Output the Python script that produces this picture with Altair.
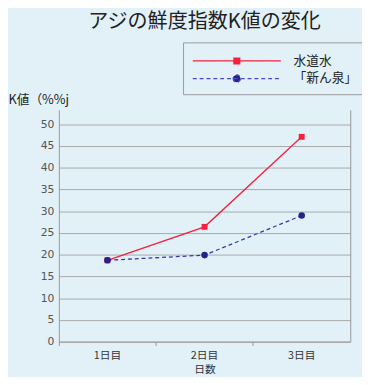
import altair as alt
import pandas as pd

days = ["1日目", "2日目", "3日目"]
series_names = ["水道水", "「新ん泉」"]
tap_water = [18.7, 26.4, 47.1]
shinsen = [18.7, 19.9, 29.0]
y_ticks = [0, 5, 10, 15, 20, 25, 30, 35, 40, 45, 50]

FONT = "Noto Sans CJK JP"
RED = "#f5203a"
BLUE = "#3838aa"
LBLUE = "#4848c0"
NAVY = "#23238c"

rows = []
for d, a, b in zip(days, tap_water, shinsen):
    rows.append({"day": d, "series": series_names[0], "k": a})
    rows.append({"day": d, "series": series_names[1], "k": b})
df = pd.DataFrame(rows)

# legend symbols (unit = 9 px): a 90 px line with the marker in its middle
sq = "M-1,0L9,0M3.67,-0.33L4.33,-0.33L4.33,0.33L3.67,0.33Z"
ci = ("M-1,0L9,0M3.58,0A0.42,0.42 0 1,0 4.42,0"
      "A0.42,0.42 0 1,0 3.58,0Z")


def mk_legend():
    return alt.Legend(
        title=None,
        orient="none",
        legendX=127,
        legendY=-69,
        padding=9,
        strokeColor="#9a9a9a",
        symbolSize=324,
        symbolStrokeWidth=1.3,
        labelFont=FONT,
        labelFontSize=13,
        labelColor="#222",
        labelOffset=84,
        rowPadding=1,
    )


x_enc = alt.X(
    "day:N",
    sort=days,
    scale=alt.Scale(type="band", paddingInner=0, paddingOuter=0),
    axis=alt.Axis(
        title="日数",
        labelAngle=0,
        bandPosition=0,
        labelFont=FONT,
        labelFontSize=11,
        labelColor="#333",
        labelPadding=4,
        titleFont=FONT,
        titleFontSize=11,
        titleFontWeight="normal",
        titleColor="#333",
        titlePadding=4,
        domainColor="#999",
        tickColor="#999",
        tickSize=4,
        grid=False,
    ),
)

y_scale = alt.Scale(domain=[0, 53.3], nice=False)

y_main = alt.Y(
    "k:Q",
    scale=y_scale,
    axis=alt.Axis(
        values=y_ticks,
        title="K値（%%j",
        titleAngle=0,
        titleX=-52,
        titleY=-11,
        titleAlign="left",
        titleBaseline="middle",
        titleFont=FONT,
        titleFontSize=13,
        titleFontWeight="normal",
        titleColor="#222",
        labelFont="DejaVu Sans",
        labelFontSize=11,
        labelColor="#555",
        labelPadding=5,
        ticks=False,
        domainColor="#999",
        gridColor="#a8a8a8",
        gridWidth=1,
    ),
)

base = alt.Chart(df)

red_line = (
    base.transform_filter(alt.datum.series == series_names[0])
    .mark_line(strokeWidth=1.3, color=RED)
    .encode(x=x_enc, y=y_main)
)
blue_line = (
    base.transform_filter(alt.datum.series == series_names[1])
    .mark_line(strokeWidth=1.3, color=BLUE, strokeDash=[4, 3])
    .encode(x=alt.X("day:N", sort=days), y=alt.Y("k:Q", scale=y_scale, axis=None))
)


def point_layer(name, shape, col, size):
    return (
        base.transform_filter(alt.datum.series == name)
        .mark_point(filled=True, opacity=1, size=size, shape=shape, color=col)
        .encode(
            x=alt.X("day:N", sort=days),
            y=alt.Y("k:Q", scale=y_scale, axis=None),
        )
    )


red_pts = point_layer(series_names[0], "square", RED, 36)
blue_pts = point_layer(series_names[1], "circle", NAVY, 45)

legend_layer = (
    base.transform_filter("false")
    .mark_point(filled=True, opacity=1, strokeWidth=1.3)
    .encode(
        fill=alt.Fill(
            "series:N",
            scale=alt.Scale(domain=series_names, range=[RED, NAVY]),
            legend=mk_legend(),
        ),
        stroke=alt.Stroke(
            "series:N",
            scale=alt.Scale(domain=series_names, range=[RED, LBLUE]),
            legend=mk_legend(),
        ),
        shape=alt.Shape(
            "series:N",
            scale=alt.Scale(domain=series_names, range=[sq, ci]),
            legend=mk_legend(),
        ),
        strokeDash=alt.StrokeDash(
            "series:N",
            scale=alt.Scale(domain=series_names, range=[[1, 0], [4, 3]]),
            legend=mk_legend(),
        ),
    )
)

frame = base.mark_point(opacity=0).encode(
    y=alt.Y(
        "k:Q",
        scale=y_scale,
        axis=alt.Axis(
            orient="right", labels=False, ticks=False, grid=False,
            title=None, domainColor="#999",
        ),
    ),
)

chart = (
    alt.layer(red_line, blue_line, red_pts, blue_pts, legend_layer, frame)
    .resolve_axis(y="independent")
    .properties(
        width=298,
        height=237,
        autosize=alt.AutoSizeParams(type="none"),
        padding={"left": 52, "top": 100, "right": 12, "bottom": 32},
        background="#e2f1f8",
        title=alt.TitleParams(
            "アジの鮮度指数K値の変化",
            font=FONT,
            fontSize=20.5,
            fontWeight="normal",
            color="#222",
            anchor="middle",
            frame="group",
            offset=10,
        ),
    )
    .configure_view(stroke=None)
)

chart.save("out.html", embed_options={"renderer": "svg", "actions": False})
